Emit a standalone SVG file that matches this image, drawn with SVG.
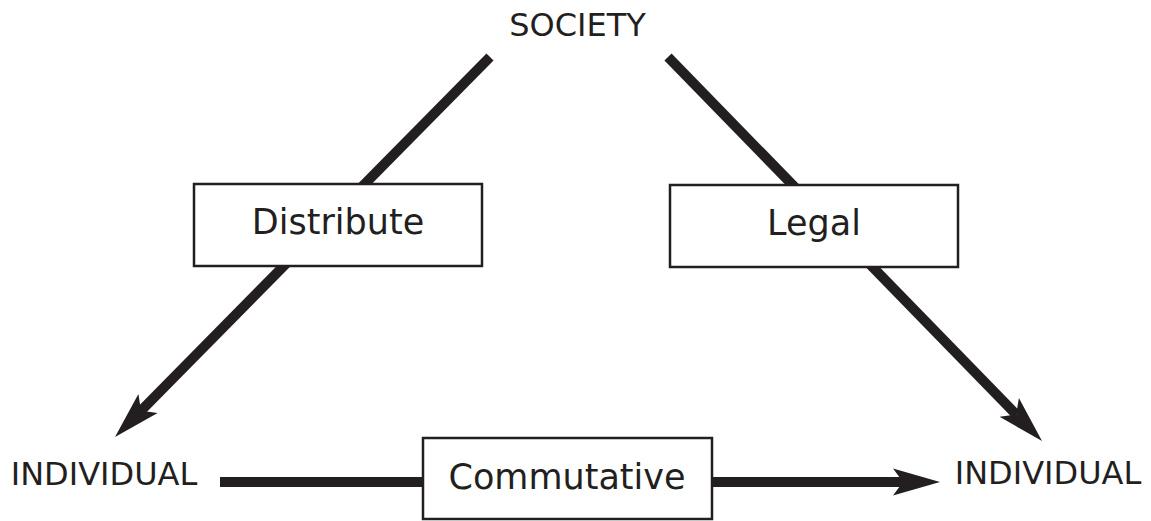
<svg xmlns="http://www.w3.org/2000/svg" width="1151" height="521" viewBox="0 0 1151 521">
  <style>
    .term { font-family: "DejaVu Sans", "Noto Sans", sans-serif; font-size: 32px; fill: #231f20; text-anchor: middle; }
    .label { font-family: "DejaVu Sans", "Noto Sans", sans-serif; font-size: 35px; fill: #231f20; text-anchor: middle; }
    .box { fill: #ffffff; stroke: #231f20; stroke-width: 2.5; }
    .edge { stroke: #231f20; stroke-width: 10; fill: none; marker-end: url(#head); }
  </style>
  <defs>
    <!-- barbed arrowhead; ref point sits at the notch so the shaft ends inside it -->
    <marker id="head" markerUnits="userSpaceOnUse" markerWidth="50" markerHeight="30" viewBox="0 0 50 30" refX="10" refY="15" orient="auto">
      <path d="M0,1.5 L47,15 L0,28.5 L10,15 Z" fill="#231f20"/>
    </marker>
  </defs>

  <rect width="1151" height="521" fill="#ffffff"/>

  <g id="connectors">
    <line class="edge" x1="490" y1="57" x2="141" y2="410.7"/>
    <line class="edge" x1="668" y1="57" x2="1016.2" y2="414.5"/>
    <line class="edge" x1="220" y1="482" x2="903" y2="482"/>
  </g>

  <g id="society">
    <text class="term" x="577.5" y="36" font-size="33">SOCIETY</text>
  </g>
  <g id="individual-left">
    <text class="term" x="104" y="485">INDIVIDUAL</text>
  </g>
  <g id="individual-right">
    <text class="term" x="1048" y="484">INDIVIDUAL</text>
  </g>

  <g id="distribute">
    <rect class="box" x="194" y="184" width="288" height="82"/>
    <text class="label" x="338" y="234">Distribute</text>
  </g>
  <g id="legal">
    <rect class="box" x="670" y="185" width="288" height="82"/>
    <text class="label" x="814" y="235">Legal</text>
  </g>
  <g id="commutative">
    <rect class="box" x="423" y="438" width="289" height="81"/>
    <text class="label" x="567" y="489">Commutative</text>
  </g>
</svg>
